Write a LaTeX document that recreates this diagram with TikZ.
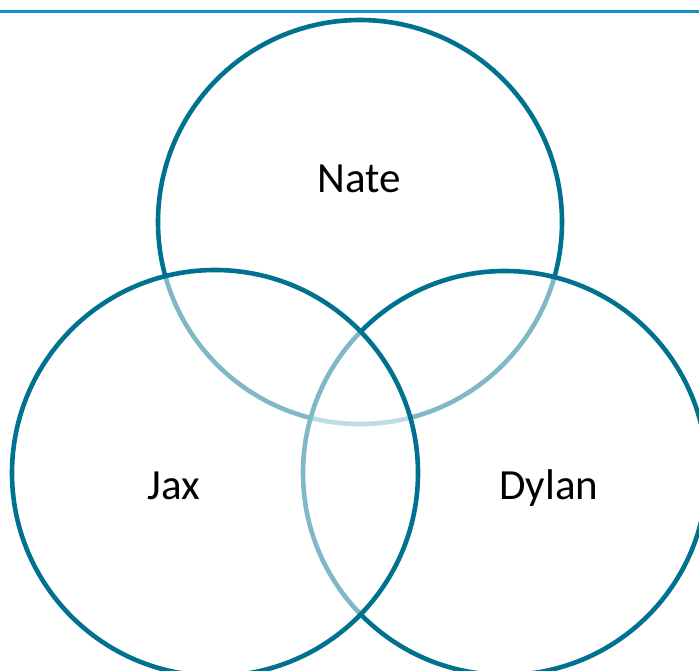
\documentclass[tikz,border=0pt]{standalone}
\usepackage{fontspec}
\setmainfont{Carlito}
\definecolor{ring}{HTML}{00728F}
\definecolor{topline}{HTML}{1590C9}
\begin{document}
\begin{tikzpicture}[x=1pt,y=1pt,
  ringfill/.style={fill=white, fill opacity=0.5},
  ringline/.style={draw=ring, line width=4.6pt},
  lbl/.style={anchor=base, font=\fontsize{43}{43}\selectfont, text=black, inner sep=0pt}]
\useasboundingbox (0,0) rectangle (699,670);
\coordinate (lineL) at (0,658);
\coordinate (lineR) at (699,658);
\draw[topline, line width=3pt] (lineL) -- (lineR);
% Nate
\coordinate (cN) at (360,448);
\fill[ringfill] (cN) circle (202);
\draw[ringline] (cN) circle (202);
% Dylan
\coordinate (cD) at (505,197);
\fill[ringfill] (cD) circle (202);
\draw[ringline] (cD) circle (202);
% Jax
\coordinate (cJ) at (215,197);
\fill[ringfill] (cJ) circle (203);
\draw[ringline] (cJ) circle (203);
\node[lbl] (nate) at (359,477) {Nate};
\node[lbl] (jax) at (174,171) {Jax};
\node[lbl] (dylan) at (549,171) {Dylan};
\end{tikzpicture}
\end{document}
